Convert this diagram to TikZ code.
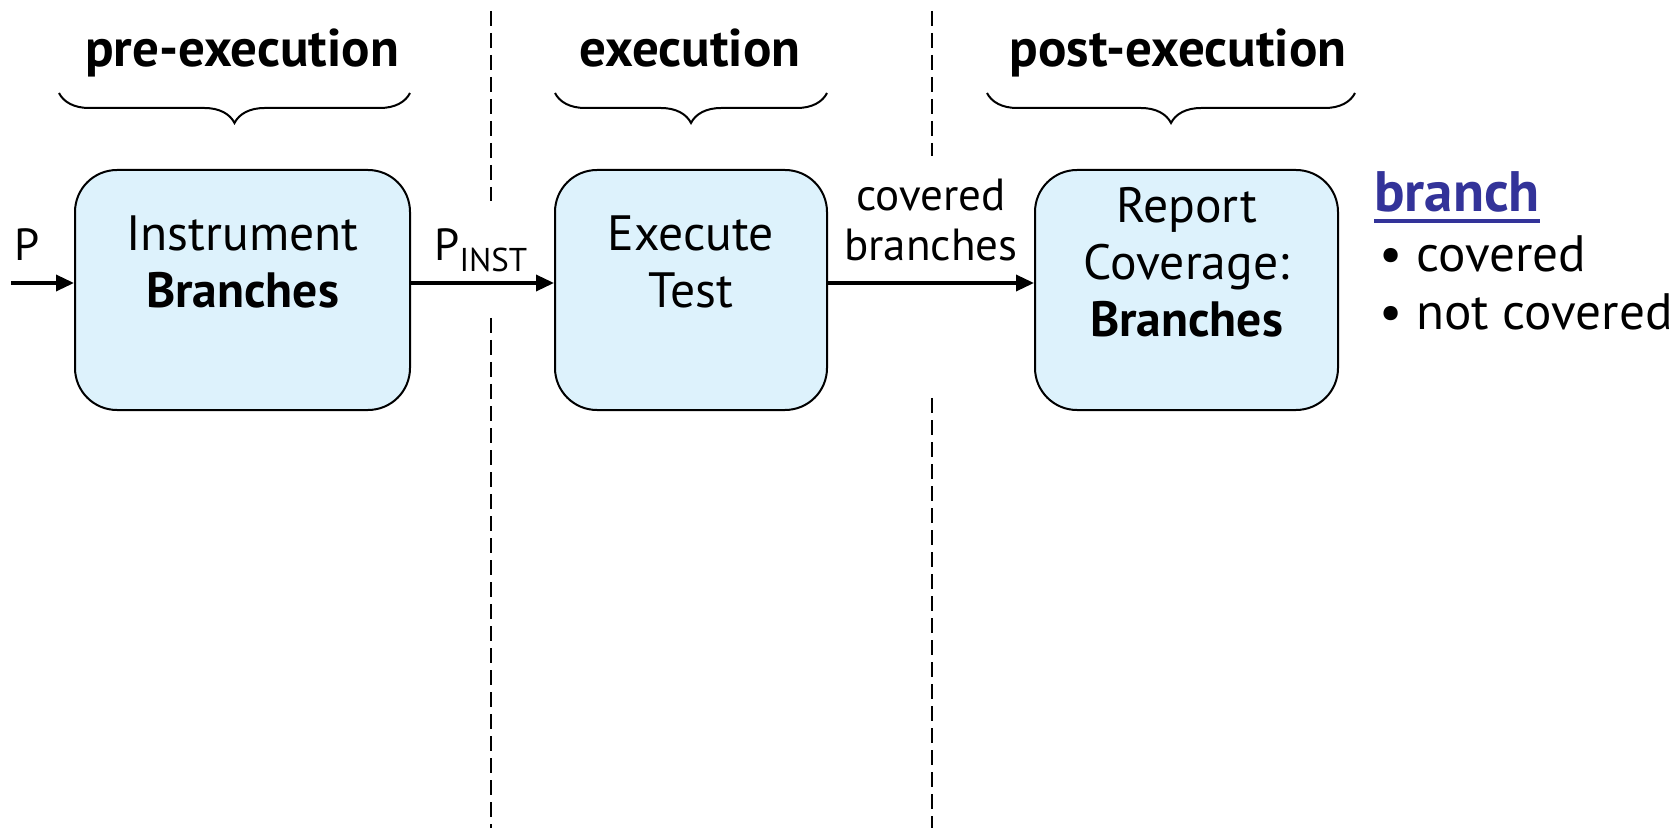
\documentclass[tikz,border=0pt]{standalone}
\usepackage{fontspec}
\setmainfont{PT Sans}
\usetikzlibrary{arrows.meta,decorations.pathreplacing,calc}
\definecolor{boxfill}{RGB}{221,242,252}
\definecolor{linkblue}{RGB}{51,51,153}
\begin{document}
\begin{tikzpicture}[x=0.5pt,y=-0.5pt,
  stage/.style={draw=black, line width=1pt, fill=boxfill, rounded corners=21pt, minimum height=120pt, inner sep=0pt},
  boxtext/.style={align=center, font=\fontsize{24.8}{28.5}\selectfont, inner sep=0pt},
  phase/.style={font=\fontsize{26.5}{31}\selectfont\bfseries, inner sep=0pt, anchor=base},
  phasebrace/.style={decorate, decoration={brace, mirror, amplitude=15pt}, line width=1pt},
  divider/.style={line width=1pt, dash pattern=on 7.5pt off 3.5pt},
  flow/.style={line width=1.7pt, -{Triangle[length=9pt,width=8pt]}},
  sidelabel/.style={font=\fontsize{22.5}{25}\selectfont, inner sep=0pt},
  listitem/.style={font=\fontsize{25.6}{29}\selectfont, inner sep=0pt, anchor=base west}
]
\useasboundingbox (0,0) rectangle (1680,828);
% dividers
\coordinate (d1a) at (491,11); \coordinate (d1b) at (491,201);
\coordinate (d1c) at (491,318); \coordinate (d1d) at (491,828);
\coordinate (d2a) at (932,11); \coordinate (d2b) at (932,156);
\coordinate (d2c) at (932,398); \coordinate (d2d) at (932,828);
\draw[divider] (d1a) -- (d1b);
\draw[divider] (d1c) -- (d1d);
\draw[divider] (d2a) -- (d2b);
\draw[divider] (d2c) -- (d2d);
% phases
\node[phase] (h1) at (242,67) {pre-execution};
\node[phase] (h2) at (690,67) {execution};
\node[phase] (h3) at (1178,67) {post-execution};
\draw[phasebrace] (59,93) -- (410,93);
\draw[phasebrace] (555,93) -- (827,93);
\draw[phasebrace] (987,93) -- (1355,93);
% boxes
\node[stage, minimum width=167.5pt] (b1) at (242.5,290) {};
\node[stage, minimum width=136pt] (b2) at (691,290) {};
\node[stage, minimum width=151.5pt] (b3) at (1186.5,290) {};
\node[boxtext] (t1) at (242.5,262) {Instrument\\\textbf{Branches}};
\node[boxtext] (t2) at (691,262) {Execute\\Test};
\node[boxtext] (t3) at (1186.5,262) {Report\\Coverage:\\\textbf{Branches}};
% flow
\coordinate (pin) at (11,283);
\draw[flow] (pin) -- (pin -| b1.west);
\draw[flow] (b1.east |- pin) -- (b2.west |- pin);
\draw[flow] (b2.east |- pin) -- (b3.west |- pin);
% labels
\node[sidelabel, anchor=base] (lp) at (27,261) {P};
\node[sidelabel, anchor=base west] (lpi) at (434,261) {P\raisebox{-5.5pt}{\fontsize{16.5}{18}\selectfont INST}};
\node[sidelabel, align=center] (lcb) at (931,220) {covered\\branches};
% legend
\node[font=\fontsize{28.5}{31}\selectfont\bfseries, text=linkblue, inner sep=0pt, anchor=base west] (lk) at (1374,212) {branch};
\draw[linkblue, line width=2pt] ([yshift=-4.5pt]lk.base west) -- ([yshift=-4.5pt]lk.base east);
\node[listitem] (li1) at (1379,272) {\textbullet\ covered};
\node[listitem] (li2) at (1379,330) {\textbullet\ not covered};
\end{tikzpicture}
\end{document}
